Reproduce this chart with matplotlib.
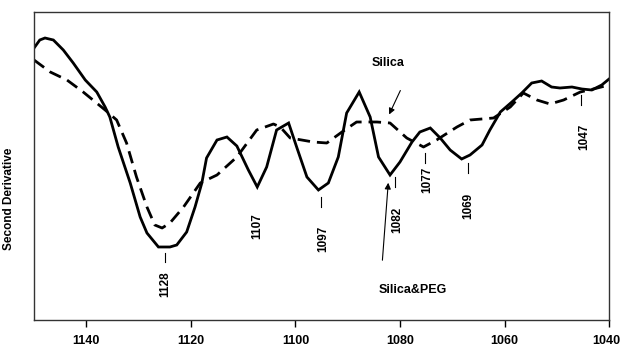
import matplotlib
matplotlib.use('Agg')
import matplotlib.pyplot as plt
import matplotlib.transforms as mtransforms

plt.rcParams['font.family'] = ['Liberation Sans', 'DejaVu Sans']
plt.rcParams['font.weight'] = 'bold'

# Data (wavenumber, cm-1 / second derivative, arbitrary units)

peg_x = [1150.0, 1148.9, 1147.9, 1146.3, 1144.4, 1142.5, 1140.2, 1138.0, 1136.4, 1135.5,
         1133.9, 1131.6, 1129.7, 1128.4, 1126.2, 1124.0, 1122.7, 1120.8, 1119.2, 1117.9,
         1117.0, 1115.0, 1113.1, 1111.2, 1109.0, 1107.3, 1105.5, 1103.6, 1101.3, 1099.7,
         1097.8, 1095.6, 1093.7, 1091.8, 1090.2, 1087.8, 1085.7, 1084.1, 1081.9, 1080.0,
         1077.7, 1076.2, 1074.2, 1072.3, 1070.4, 1068.2, 1066.6, 1064.3, 1062.8, 1060.8,
         1058.6, 1056.7, 1054.8, 1052.9, 1051.0, 1049.4, 1047.1, 1045.2, 1043.3, 1041.4,
         1040.0]
peg_y = [1.32, 1.40, 1.42, 1.40, 1.30, 1.17, 1.00, 0.88, 0.73, 0.63,
         0.33, -0.03, -0.37, -0.53, -0.67, -0.67, -0.65, -0.52, -0.27, -0.03,
         0.22, 0.40, 0.43, 0.34, 0.10, -0.07, 0.13, 0.50, 0.57, 0.32,
         0.03, -0.10, -0.03, 0.23, 0.67, 0.88, 0.63, 0.23, 0.05, 0.18,
         0.38, 0.48, 0.52, 0.42, 0.30, 0.21, 0.25, 0.35, 0.50, 0.68,
         0.78, 0.87, 0.97, 0.99, 0.93, 0.92, 0.93, 0.91, 0.90, 0.95,
         1.01]

silica_x = [1150.0, 1146.9, 1143.7, 1140.6, 1136.4, 1134.2, 1132.3, 1130.4, 1128.4, 1126.9,
            1125.5, 1124.0, 1121.4, 1118.2, 1115.0, 1111.2, 1107.4, 1104.2, 1102.9, 1101.0,
            1096.6, 1094.0, 1091.1, 1088.3, 1084.4, 1081.9, 1078.7, 1075.5, 1073.0, 1069.1,
            1066.6, 1062.1, 1058.9, 1056.4, 1053.8, 1051.3, 1048.7, 1045.5, 1043.0, 1040.0]
silica_y = [1.20, 1.08, 1.00, 0.88, 0.70, 0.60, 0.37, 0.03, -0.27, -0.45,
            -0.48, -0.43, -0.27, -0.03, 0.05, 0.23, 0.50, 0.56, 0.53, 0.42,
            0.38, 0.37, 0.48, 0.58, 0.58, 0.57, 0.42, 0.33, 0.40, 0.53,
            0.60, 0.62, 0.73, 0.87, 0.80, 0.76, 0.80, 0.88, 0.91, 0.95]

peak_labels = ['1128', '1107', '1097', '1082', '1077', '1069', '1047']
xticks = [1140, 1120, 1100, 1080, 1060, 1040]

fig = plt.figure(figsize=(6.21, 3.48), dpi=100)
ax = fig.add_axes([0.0548, 0.0805, 0.926, 0.885])

ax.plot(peg_x, peg_y, color='black', lw=2.0, solid_joinstyle='miter')
ax.plot(silica_x, silica_y, color='black', lw=2.0, linestyle=(0, (4.5, 2.5)))

ax.set_xlim(1150, 1040)
ax.set_ylim(-1.40, 1.68)
ax.set_xticks(xticks)
ax.set_yticks([])
ax.tick_params(axis='x', direction='out', length=5, width=1, pad=5.5, labelsize=9)
for s in ax.spines.values():
    s.set_linewidth(1.0)
    s.set_color('#333333')

# last label sits slightly left of its tick, as in the original
last = ax.get_xticklabels()[-1]
last.set_transform(last.get_transform() + mtransforms.ScaledTranslation(-3/100, 0, fig.dpi_scale_trans))

ax.set_ylabel('Second Derivative', fontsize=8.5, fontweight='bold')
ax.yaxis.set_label_coords(-0.033, 0.393)

# peak markers: (tick x, tick y0, tick y1, label x, label y)
marks = [(1124.9, -0.73, -0.82, 1124.9, -1.04),
         (None, None, None, 1107.3, -0.46),
         (1095.1, -0.17, -0.27, 1094.7, -0.59),
         (1080.9, 0.03, -0.07, 1080.6, -0.40),
         (1075.2, 0.27, 0.17, 1074.8, 0.00),
         (1066.9, 0.17, 0.07, 1066.9, -0.26),
         (1045.4, 0.85, 0.75, 1044.8, 0.43)]
for lab, (tx, ty0, ty1, lx, ly) in zip(peak_labels, marks):
    if tx is not None:
        ax.plot([tx, tx], [ty0, ty1], color='black', lw=0.8)
    ax.text(lx, ly, lab, rotation=90, ha='center', va='center', fontsize=8.5, fontweight='bold')

ax.text(1082.3, 1.17, 'Silica', ha='center', va='center', fontsize=9, fontweight='bold')
ax.annotate('', xy=(1082.3, 0.63), xytext=(1079.7, 0.92),
            arrowprops=dict(arrowstyle='-|>', lw=0.8, color='black', mutation_scale=9))
ax.text(1077.5, -1.10, 'Silica&PEG', ha='center', va='center', fontsize=9, fontweight='bold')
ax.annotate('', xy=(1082.2, 0.0), xytext=(1083.4, -0.83),
            arrowprops=dict(arrowstyle='-|>', lw=0.8, color='black', mutation_scale=9))

plt.savefig('out.png', dpi=100)
